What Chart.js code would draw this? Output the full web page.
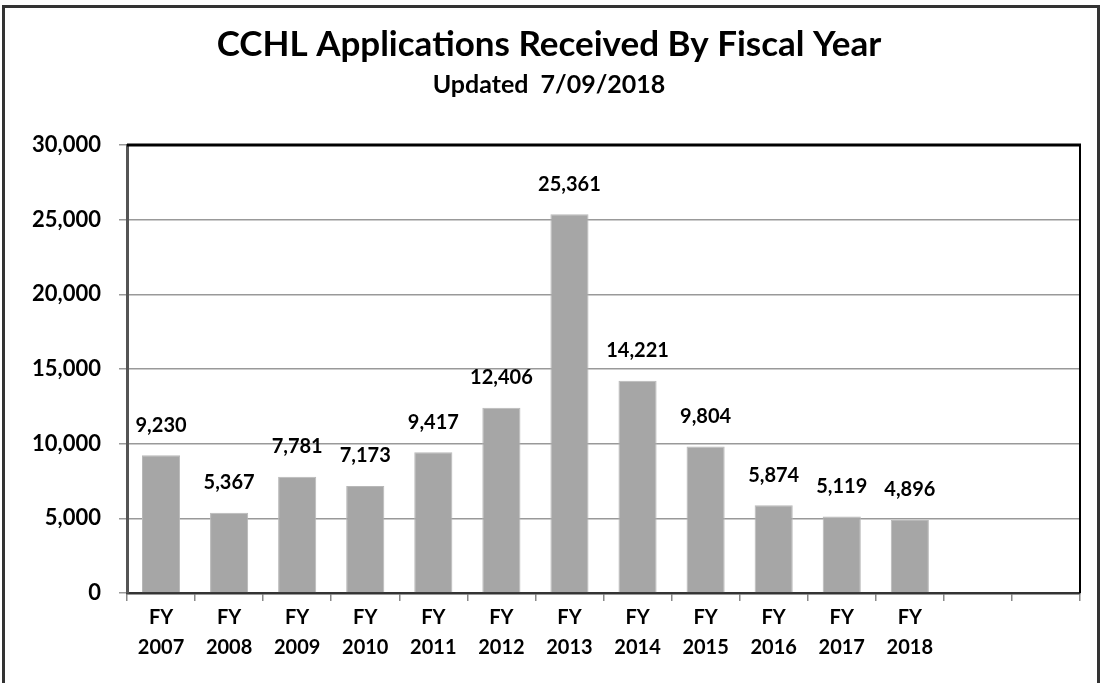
<!DOCTYPE html>
<html>
<head>
<meta charset="utf-8">
<title>CCHL Applications Received By Fiscal Year</title>
<script src="https://cdn.jsdelivr.net/npm/chart.js@4.4.0/dist/chart.umd.min.js"></script>
<style>
  html, body { margin: 0; padding: 0; background: #fff; overflow: hidden; }
  #wrap { position: relative; width: 1105px; height: 683px; }
  #frame {
    position: absolute; left: 2px; top: 5px; width: 1098px; height: 720px;
    border: 3px solid #333; box-sizing: border-box; pointer-events: none;
  }
  canvas { position: absolute; left: 0; top: 0; }
</style>
</head>
<body>
<div id="wrap">
  <canvas id="chart" width="1105" height="683"></canvas>
  <div id="frame"></div>
</div>
<script>
// data
const fiscalYears = ['2007', '2008', '2009', '2010', '2011', '2012', '2013', '2014', '2015', '2016', '2017', '2018', '', ''];
const applications = [9230, 5367, 7781, 7173, 9417, 12406, 25361, 14221, 9804, 5874, 5119, 4896, null, null];
const yMin = 0;
const yMax = 30000;
const yStep = 5000;

const FONT = 'Lato, "Open Sans", "DejaVu Sans", sans-serif';
const fmt = v => v.toLocaleString('en-US');

// top/right frame of the plot area + value labels over the bars
const plotExtras = {
  id: 'plotExtras',
  afterDatasetsDraw(chart) {
    const { ctx, chartArea: a } = chart;
    ctx.save();
    ctx.strokeStyle = '#000';
    ctx.lineWidth = 3;
    ctx.beginPath();
    ctx.moveTo(a.left, a.top);
    ctx.lineTo(a.right + 1, a.top);
    ctx.stroke();
    ctx.lineWidth = 2;
    ctx.beginPath();
    ctx.moveTo(a.right, a.top);
    ctx.lineTo(a.right, a.bottom);
    ctx.stroke();

    const meta = chart.getDatasetMeta(0);
    ctx.fillStyle = '#000';
    ctx.font = 'bold 20px ' + FONT;
    ctx.textAlign = 'center';
    ctx.textBaseline = 'middle';
    meta.data.forEach((bar, i) => {
      const v = applications[i];
      if (v == null) return;
      ctx.fillText(fmt(v), bar.x, bar.y - 30);
    });
    ctx.restore();
  }
};

new Chart(document.getElementById('chart'), {
  type: 'bar',
  data: {
    labels: fiscalYears.map(y => y ? ['FY', y] : ''),
    datasets: [{
      data: applications,
      backgroundColor: '#a6a6a6',
      borderColor: '#b8b8b8',
      borderWidth: 1,
      barPercentage: 0.56,
      categoryPercentage: 1.0
    }]
  },
  options: {
    responsive: false,
    animation: false,
    layout: { padding: { left: 18, right: 25, top: 0, bottom: 0 } },
    plugins: {
      legend: { display: false },
      tooltip: { enabled: false },
      title: {
        display: true,
        text: 'CCHL Applications Received By Fiscal Year',
        color: '#000',
        font: { family: FONT, size: 35, weight: 'bold', lineHeight: 1.2 },
        padding: { top: 24, bottom: 2 }
      },
      subtitle: {
        display: true,
        text: 'Updated  7/09/2018',
        color: '#000',
        font: { family: FONT, size: 25, weight: 'bold', lineHeight: 1.2 },
        padding: { top: 2, bottom: 45 }
      }
    },
    scales: {
      x: {
        grid: {
          offset: true,
          drawOnChartArea: false,
          drawTicks: true,
          tickLength: 8,
          color: '#888',
          lineWidth: 1.5
        },
        border: { color: '#333', width: 2.5 },
        ticks: {
          color: '#000',
          font: { family: FONT, size: 20, weight: 'bold', lineHeight: 1.5 },
          padding: 2,
          maxRotation: 0,
          autoSkip: false
        },
        afterFit: s => { s.height = 90; }
      },
      y: {
        min: yMin,
        max: yMax,
        grid: { color: '#999', lineWidth: 1.5, drawTicks: true, tickLength: 8 },
        border: { color: '#555', width: 3 },
        ticks: {
          stepSize: yStep,
          color: '#000',
          font: { family: FONT, size: 22, weight: 'bold' },
          padding: 18,
          callback: v => fmt(v)
        },
        afterFit: s => { s.width = 109; }
      }
    }
  },
  plugins: [plotExtras]
});
</script>
</body>
</html>
